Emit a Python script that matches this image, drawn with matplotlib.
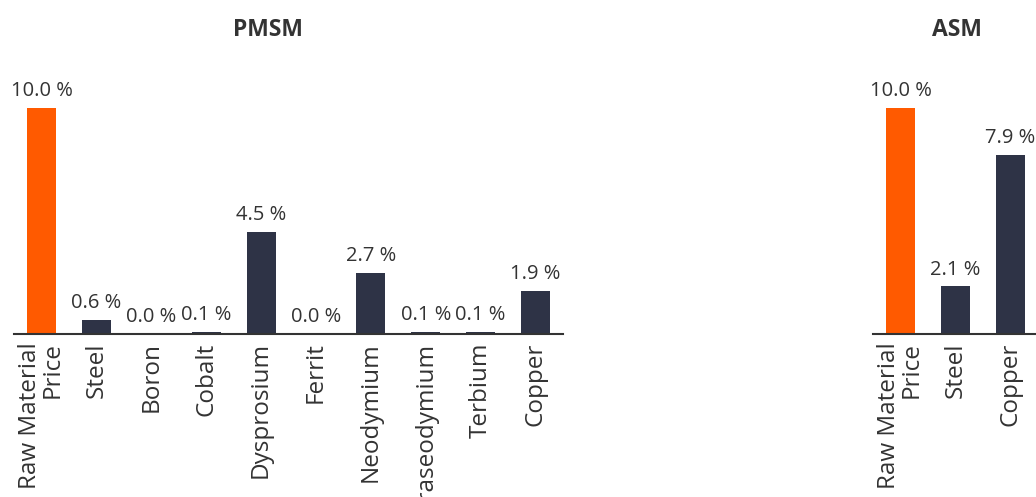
import matplotlib.pyplot as plt

plt.rcParams['font.family'] = ['Open Sans', 'DejaVu Sans']

pmsm_labels = ['Raw Material\nPrice', 'Steel', 'Boron', 'Cobalt', 'Dysprosium', 'Ferrit',
               'Neodymium', 'Praseodymium', 'Terbium', 'Copper']
pmsm_values = [10.0, 0.6, 0.0, 0.1, 4.5, 0.0, 2.7, 0.1, 0.1, 1.9]

asm_labels = ['Raw Material\nPrice', 'Steel', 'Copper']
asm_values = [10.0, 2.1, 7.9]

ORANGE = '#FF5A00'
NAVY = '#2E3346'
TEXT = '#333333'

W, H = 1036, 497
fig = plt.figure(figsize=(W / 100, H / 100), dpi=100)


def draw_panel(left_px, labels, values, title, title_x):
    ax = fig.add_axes([left_px / W, (H - 334) / H, 549 / W, 249 / H])
    colors = [ORANGE] + [NAVY] * (len(values) - 1)
    x = list(range(len(values)))
    ax.bar(x, values, width=0.53, color=colors)
    ax.set_xlim(-0.5, 9.5)
    ax.set_ylim(0, 11)
    for xi, v in zip(x, values):
        ax.annotate(f'{v:.1f} %', (xi, v), xytext=(0, 5), textcoords='offset points',
                    ha='center', va='bottom', fontsize=14.5, color=TEXT)
    ax.set_xticks(x)
    ax.set_xticklabels(labels, rotation=90, ha='center', va='top',
                       multialignment='right', fontsize=17.5, color=TEXT,
                       linespacing=0.95)
    ax.tick_params(axis='x', length=0, pad=6)
    ax.set_yticks([])
    for s in ['top', 'right', 'left']:
        ax.spines[s].set_visible(False)
    ax.spines['bottom'].set_color(TEXT)
    ax.spines['bottom'].set_linewidth(1.5)
    fig.text(title_x / W, 1 - 30 / H, title, ha='center', va='center',
             fontsize=16.5, fontweight='bold', color=TEXT)


draw_panel(14, pmsm_labels, pmsm_values, 'PMSM', 268)
draw_panel(873, asm_labels, asm_values, 'ASM', 957)

fig.savefig('out.png', dpi=100)
